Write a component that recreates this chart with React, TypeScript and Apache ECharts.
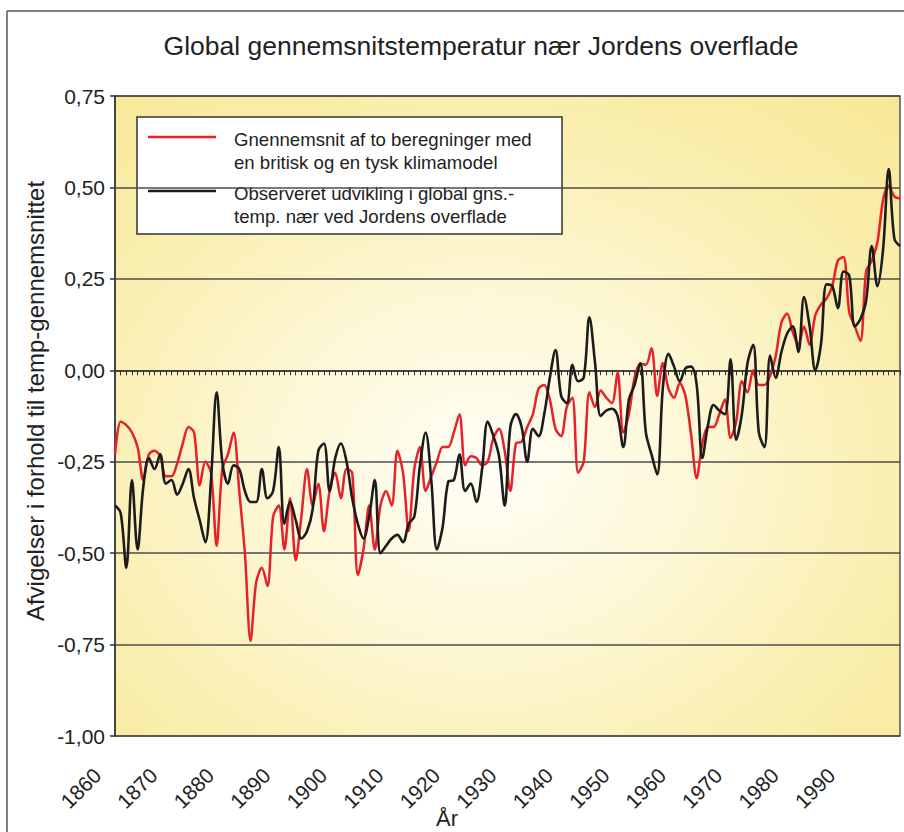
import React, { useEffect, useRef } from "react";
import * as echarts from "echarts";

const FIRST_YEAR = 1860;
const LAST_YEAR = 1999;
const years: number[] = [];
for (let y = FIRST_YEAR; y <= LAST_YEAR; y++) years.push(y);

// Gennemsnit af to beregninger (model) 1860-1999
const modelValues = [
  -0.23, -0.14, -0.15, -0.17, -0.21, -0.3, -0.23, -0.22, -0.235, -0.29,
  -0.29, -0.255, -0.2, -0.155, -0.17, -0.315, -0.25, -0.28, -0.48, -0.27,
  -0.23, -0.17, -0.33, -0.5, -0.74, -0.58, -0.54, -0.59, -0.4, -0.37,
  -0.49, -0.35, -0.52, -0.4, -0.27, -0.37, -0.31, -0.44, -0.33, -0.28,
  -0.35, -0.27, -0.28, -0.56, -0.49, -0.37, -0.49, -0.37, -0.33, -0.37,
  -0.22, -0.28, -0.44, -0.27, -0.21, -0.33, -0.29, -0.25, -0.21, -0.21,
  -0.17, -0.12, -0.26, -0.235, -0.24, -0.26, -0.25, -0.185, -0.16, -0.22,
  -0.33, -0.2, -0.195, -0.155, -0.12, -0.05, -0.04, -0.08, -0.16, -0.18,
  -0.1, -0.075, -0.28, -0.25, -0.06, -0.1, -0.055, -0.075, -0.09, -0.005,
  -0.17, -0.12, -0.02, 0.018, 0.015, 0.06, -0.07, 0.02, -0.05, -0.075,
  -0.035, -0.07, -0.175, -0.295, -0.2, -0.155, -0.155, -0.12, -0.08, -0.185,
  -0.14, -0.03, -0.06, 0.0, -0.04, -0.04, -0.015, 0.04, 0.13, 0.155,
  0.105, 0.07, 0.12, 0.07, 0.15, 0.18, 0.196, 0.23, 0.3, 0.31,
  0.16, 0.12, 0.08, 0.27, 0.3, 0.35, 0.465, 0.505, 0.475, 0.47,
];

// Observeret udvikling 1860-1999
const observedValues = [
  -0.37, -0.39, -0.54, -0.3, -0.49, -0.32, -0.24, -0.27, -0.23, -0.31,
  -0.3, -0.34, -0.31, -0.27, -0.35, -0.41, -0.47, -0.3, -0.06, -0.25,
  -0.31, -0.26, -0.27, -0.33, -0.36, -0.36, -0.27, -0.35, -0.33, -0.21,
  -0.42, -0.36, -0.41, -0.46, -0.44, -0.38, -0.22, -0.2, -0.33, -0.24,
  -0.2, -0.25, -0.35, -0.42, -0.46, -0.4, -0.3, -0.5, -0.48, -0.46,
  -0.45, -0.47, -0.42, -0.4, -0.26, -0.17, -0.3, -0.49, -0.43, -0.305,
  -0.3, -0.23, -0.33, -0.31, -0.36, -0.27, -0.14, -0.18, -0.235, -0.37,
  -0.155, -0.12, -0.155, -0.25, -0.16, -0.18, -0.12, -0.02, 0.055, -0.07,
  -0.09, 0.015, -0.03, -0.02, 0.145, 0.02, -0.125, -0.11, -0.105, -0.125,
  -0.21, -0.08, -0.04, 0.02, -0.17, -0.23, -0.285, -0.05, 0.045, 0.01,
  -0.03, 0.005, 0.01, -0.04, -0.24, -0.15, -0.095, -0.11, -0.12, 0.03,
  -0.19, -0.12, 0.02, 0.07, -0.17, -0.21, 0.04, -0.02, 0.05, 0.1,
  0.12, 0.05, 0.2, 0.12, 0.0, 0.07, 0.235, 0.23, 0.17, 0.27,
  0.26, 0.12, 0.14, 0.19, 0.34, 0.23, 0.33, 0.55, 0.36, 0.34,
];

const TITLE = "Global gennemsnitstemperatur nær Jordens overflade";
const Y_NAME = "Afvigelser i forhold til temp-gennemsnittet";
const X_NAME = "År";
const LEGEND_MODEL = "Gnennemsnit af to beregninger med\nen britisk og en tysk klimamodel";
const LEGEND_OBS = "Observeret udvikling i global gns.-\ntemp. nær ved Jordens overflade";

const FONT = "'Liberation Sans', Arial, Helvetica, sans-serif";
const RED = "#e8202a";
const BLACK = "#1c1c1c";

export default function App() {
  const ref = useRef<HTMLDivElement>(null);

  useEffect(() => {
    if (!ref.current) return;
    const chart = echarts.init(ref.current, undefined, { renderer: "svg" });
    const option: any = {
      animation: false,
      backgroundColor: "#ffffff",
      textStyle: { fontFamily: FONT },
      grid: {
        left: 115,
        right: 4,
        top: 96,
        bottom: 96,
        show: true,
        borderColor: "#555555",
        borderWidth: 1.5,
        backgroundColor: new echarts.graphic.RadialGradient(0.47, 0.58, 0.85, [
          { offset: 0, color: "#fffef6" },
          { offset: 0.3, color: "#fdf8d8" },
          { offset: 0.6, color: "#faefb2" },
          { offset: 1, color: "#f7e68e" },
        ]),
      },
      xAxis: {
        type: "value",
        min: FIRST_YEAR,
        max: LAST_YEAR,
        interval: 1,
        axisLine: { show: true, lineStyle: { color: "#333", width: 1.5 } },
        axisTick: { show: true, length: 5, lineStyle: { color: "#333", width: 1 } },
        splitLine: { show: false },
        axisLabel: {
          rotate: 45,
          margin: 18,
          padding: [0, 25, 0, 0],
          fontSize: 21,
          color: "#222",
          fontFamily: FONT,
          formatter: (v: number) => (v % 10 === 0 && v <= 1990 ? String(v) : ""),
        },
      },
      yAxis: {
        type: "value",
        min: -1,
        max: 0.75,
        interval: 0.25,
        axisLine: { show: true, lineStyle: { color: "#333", width: 1.5 } },
        axisTick: { show: true, length: 5, lineStyle: { color: "#333", width: 1.5 } },
        splitLine: { show: true, lineStyle: { color: "#4d4d4d", width: 1.5 } },
        axisLabel: {
          margin: 10,
          fontSize: 21,
          color: "#222",
          fontFamily: FONT,
          formatter: (v: number) => v.toFixed(2).replace(".", ","),
        },
      },
      series: [
        {
          name: "model",
          type: "line",
          data: years.map((y, i) => [y, modelValues[i]]),
          showSymbol: false,
          smooth: 0.3,
          lineStyle: { color: RED, width: 2.5 },
          z: 2,
        },
        {
          name: "observed",
          type: "line",
          data: years.map((y, i) => [y, observedValues[i]]),
          showSymbol: false,
          smooth: 0.35,
          lineStyle: { color: BLACK, width: 2.6 },
          z: 3,
        },
      ],
      graphic: [
        {
          type: "line",
          shape: { x1: 7, y1: 11, x2: 904, y2: 11 },
          style: { stroke: "#555", lineWidth: 1.5 },
        },
        {
          type: "line",
          shape: { x1: 7, y1: 11, x2: 7, y2: 832 },
          style: { stroke: "#555", lineWidth: 1.5 },
        },
        {
          type: "text",
          x: 481,
          y: 46,
          style: {
            text: TITLE,
            fontSize: 26.5,
            fontFamily: FONT,
            fill: "#222",
            textAlign: "center",
            textVerticalAlign: "middle",
          },
        },
        {
          type: "text",
          x: 35,
          y: 401,
          rotation: Math.PI / 2,
          style: {
            text: Y_NAME,
            fontSize: 24,
            fontFamily: FONT,
            fill: "#222",
            textAlign: "center",
            textVerticalAlign: "middle",
          },
        },
        {
          type: "text",
          x: 447,
          y: 818,
          style: {
            text: X_NAME,
            fontSize: 22,
            fontFamily: FONT,
            fill: "#222",
            textAlign: "center",
            textVerticalAlign: "middle",
          },
        },
        {
          type: "group",
          z: 100,
          children: [
            {
              type: "rect",
              shape: { x: 137, y: 117, width: 425, height: 117 },
              style: { fill: "#ffffff", stroke: "#333", lineWidth: 1.5 },
            },
            {
              type: "line",
              shape: { x1: 148, y1: 137, x2: 216, y2: 137 },
              style: { stroke: RED, lineWidth: 2.6 },
            },
            {
              type: "text",
              x: 234,
              y: 128,
              style: {
                text: LEGEND_MODEL,
                fontSize: 18.6,
                lineHeight: 23,
                fontFamily: FONT,
                fill: "#222",
                textAlign: "left",
                textVerticalAlign: "top",
              },
            },
            {
              type: "line",
              shape: { x1: 148, y1: 191, x2: 216, y2: 191 },
              style: { stroke: BLACK, lineWidth: 2.6 },
            },
            {
              type: "text",
              x: 234,
              y: 182,
              style: {
                text: LEGEND_OBS,
                fontSize: 18.6,
                lineHeight: 23,
                fontFamily: FONT,
                fill: "#222",
                textAlign: "left",
                textVerticalAlign: "top",
              },
            },
          ],
        },
      ],
    };
    chart.setOption(option);
    return () => chart.dispose();
  }, []);

  return (
    <div
      ref={ref}
      style={{ position: "fixed", left: 0, top: 0, width: 904, height: 832 }}
    />
  );
}
